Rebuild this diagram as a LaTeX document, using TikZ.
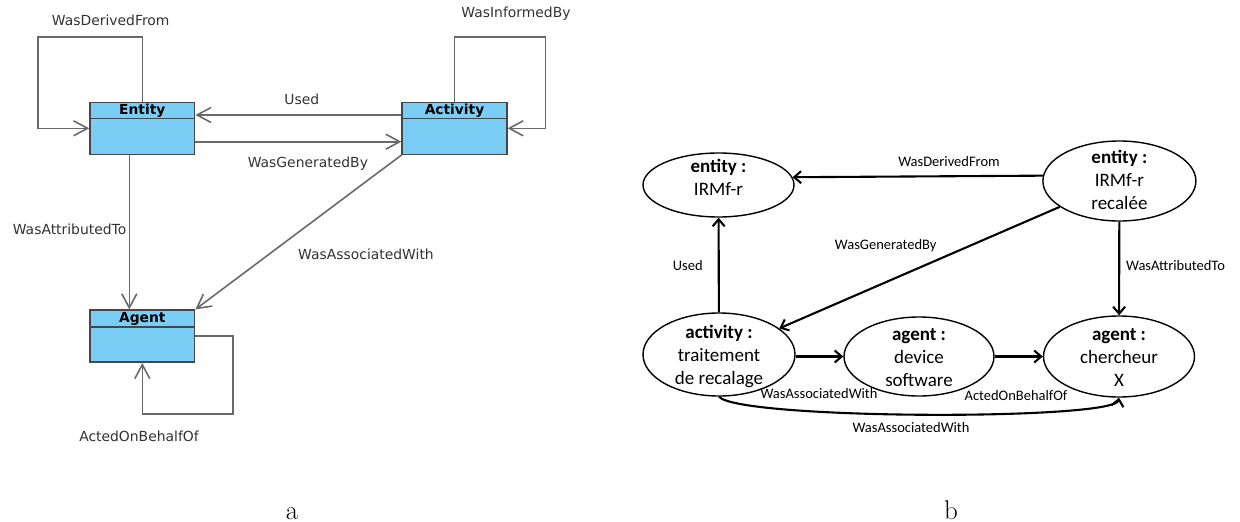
\documentclass[tikz,border=0pt]{standalone}
\usepackage{fontspec}
\usetikzlibrary{arrows.meta,shapes.geometric,calc}
\newfontfamily\lfont{DejaVu Sans}
\newfontfamily\rfont{Carlito}
\definecolor{boxblue}{RGB}{122,205,245}
\definecolor{lgray}{RGB}{105,105,105}
\definecolor{bgray}{RGB}{70,70,70}
\definecolor{ltext}{RGB}{50,50,50}
\begin{document}
\begin{tikzpicture}[x=1pt,y=-1pt,
 umlbox/.style={draw=bgray, line width=1.5pt, fill=boxblue, minimum width=104.6pt, minimum height=52pt, inner sep=0pt},
 hdr/.style={font=\lfont\bfseries\fontsize{13.8}{15}\selectfont, text=black, inner sep=0pt},
 llab/.style={font=\lfont\fontsize{13.9}{16}\selectfont, text=ltext, inner sep=0pt},
 larr/.style={draw=lgray, line width=1.6pt, -{Straight Barb[length=14pt,width=15pt]}},
 lline/.style={draw=bgray, line width=1.5pt},
 ell/.style={ellipse, draw=black, line width=1.4pt, inner sep=0pt},
 etext/.style={font=\rfont\fontsize{19}{22.7}\selectfont, align=center, inner sep=0pt},
 rlab/.style={font=\rfont\fontsize{14.5}{16}\selectfont, inner sep=0pt},
 rarr/.style={draw=black, line width=2.1pt, -{Straight Barb[length=7pt,width=12pt]}},
 captext/.style={font=\fontsize{27}{30}\selectfont, inner sep=0pt}
]
\useasboundingbox (0,0) rectangle (1240,522);

% ---------- left diagram ----------
\node[umlbox] (lent) at (142.3,128.3) {};
\node[umlbox] (lact) at (454.5,128.3) {};
\node[umlbox] (lagt) at (142.3,336.2) {};
\draw[lline] ([yshift=-17pt]lent.north west) -- ([yshift=-17pt]lent.north east);
\draw[lline] ([yshift=-17pt]lact.north west) -- ([yshift=-17pt]lact.north east);
\draw[lline] ([yshift=-17.7pt]lagt.north west) -- ([yshift=-17.7pt]lagt.north east);
\node[hdr] (lentt) at ([yshift=-8.7pt]lent.north) {Entity};
\node[hdr] (lactt) at ([yshift=-8.7pt]lact.north) {Activity};
\node[hdr] (lagtt) at ([yshift=-9.3pt]lagt.north) {Agent};

\coordinate (dfc) at (38.2,37);
\coordinate (wic) at (545.4,37);
\coordinate (aoc) at (233.2,414);

\draw[larr] (lent.north) |- (dfc) |- (lent.west);
\draw[larr] (lact.north) |- (wic) |- (lact.east);
\draw[larr] ([yshift=13.3pt]lact.west) -- ([yshift=13.3pt]lent.east);
\draw[larr] ([yshift=-13.4pt]lent.east) -- ([yshift=-13.4pt]lact.west);
\draw[larr] ([xshift=-13pt]lent.south) -- ([xshift=-13pt]lagt.north);
\draw[larr] (lact.south west) -- (lagt.north east);
\draw[larr] (lagt.east) -| (aoc) -| (lagt.south);

\node[llab] (ldf) at (110.7,20.7) {WasDerivedFrom};
\node[llab] (lwi) at (516,14) {WasInformedBy};
\node[llab] (lus) at (301.8,99) {Used};
\node[llab] (lwg) at (307.9,164) {WasGeneratedBy};
\node[llab] (lwat) at (69.6,229.3) {WasAttributedTo};
\node[llab] (lwaw) at (366,254.3) {WasAssociatedWith};
\node[llab] (lao) at (139,436) {ActedOnBehalfOf};

% ---------- right diagram ----------
\node[ell, minimum width=151pt, minimum height=64pt] (re1) at (718.5,185) {};
\node[ell, minimum width=153pt, minimum height=80pt] (re2) at (1119.4,181) {};
\node[ell, minimum width=152pt, minimum height=83pt] (ract) at (719,354.5) {};
\node[ell, minimum width=150pt, minimum height=79pt] (rdev) at (919,356.5) {};
\node[ell, minimum width=151pt, minimum height=81pt] (rch) at (1119,356.5) {};

\node[etext] (re1t) at (718.5,177.5) {\textbf{entity :}\\IRMf-r};
\node[etext] (re2t) at (1119.4,180) {\textbf{entity :}\\IRMf-r\\recalée};
\node[etext] (ractt) at (719,356.5) {\textbf{activity :}\\traitement\\de recalage};
\node[etext] (rdevt) at (919,357.5) {\textbf{agent :}\\device\\software};
\node[etext] (rcht) at (1119,357.5) {\textbf{agent :}\\chercheur\\X};

\draw[rarr] (re2.176.8) -- (re1.6.5);
\draw[rarr] (re2) -- (ract);
\draw[rarr] (ract) -- (re1);
\draw[rarr] (re2) -- (rch);
\draw[rarr] (ract.east |- rdev) -- (rdev);
\draw[rarr] (rdev) -- (rch);
\draw[rarr] (ract.south) .. controls +(20,23) and +(-4,23) .. (rch.south);

\node[rlab] (rdf) at (949,161.7) {WasDerivedFrom};
\node[rlab] (rwg) at (885.7,246) {WasGeneratedBy};
\node[rlab] (rus) at (687.8,265.7) {Used};
\node[rlab] (rwat) at (1175.5,265.7) {WasAttributedTo};
\node[rlab] (rwaw) at (819,394) {WasAssociatedWith};
\node[rlab] (rao) at (1016,396) {ActedOnBehalfOf};
\node[rlab] (rwaw2) at (911,428) {WasAssociatedWith};

% ---------- captions ----------
\node[captext, anchor=base] (capa) at (292,519) {a};
\node[captext, anchor=base] (capb) at (951,519) {b};
\end{tikzpicture}
\end{document}
